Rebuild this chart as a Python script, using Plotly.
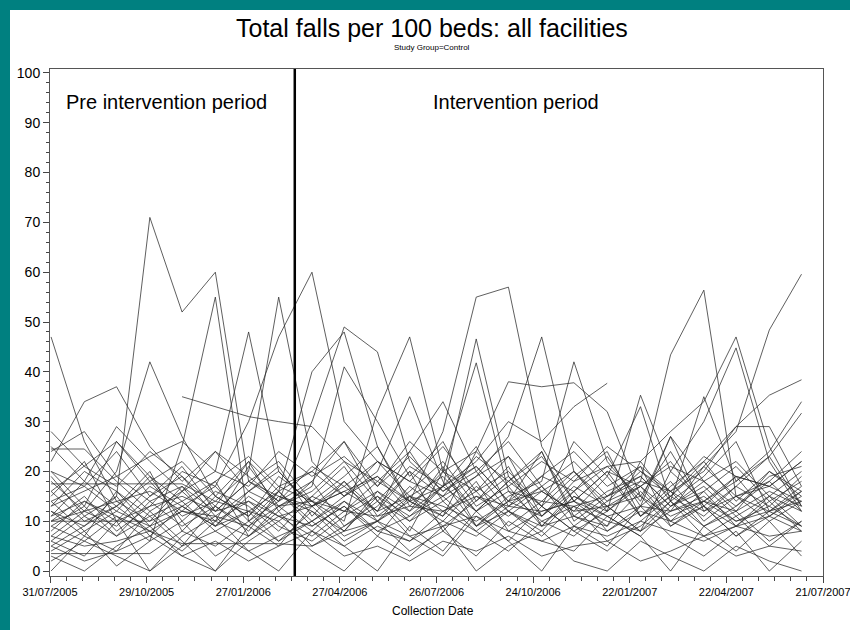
import plotly.graph_objects as go

# ---------------- data ----------------
dates = ["2005-08-01", "2005-09-01", "2005-10-01", "2005-11-01", "2005-12-01", "2006-01-01",
         "2006-02-01", "2006-03-01", "2006-04-01", "2006-05-01", "2006-06-01", "2006-07-01",
         "2006-08-01", "2006-09-01", "2006-10-01", "2006-11-01", "2006-12-01", "2007-01-01",
         "2007-02-01", "2007-03-01", "2007-04-01", "2007-05-01", "2007-06-01", "2007-07-01"]

N = None
f01 = [47, 26, 14, 10, 17, 9, 12, 6, 10, 14, 8, 11, 15, 9, 12, 7, 13, 10, 8, 14, 9, 12, 6, 10]
f02 = [12, 9, 15, 71, 52, 60, 18, 22, 14, 19, 25, 13, 20, 16, 23, 11, 18, 21, 15, 24, 13, 19, 17, 22]
f03 = [8, 14, 11, 6, 25, 55, 10, 16, 9, 13, 7, 15, 11, 18, 8, 12, 14, 9, 16, 10, 13, 7, 11, 15]
f04 = [18, 12, 20, 42, 27, 15, 22, 12, 18, 26, 14, 21, 17, 25, 13, 19, 16, 21, 22, 14, 19, 26, 12, 17]
f05 = [22, 34, 37, 25, 18, 24, 16, 20, 13, 17, 22, 15, 19, 12, 18, 23, 14, 20, 17, 12, 21, 15, 18, 24]
f06 = [16, 10, 13, 18, 11, 14, 20, 55, 22, 15, 19, 12, 17, 21, 14, 24, 11, 16, 19, 13, 18, 22, 15, 12]
f07 = [10, 15, 8, 13, 20, 17, 30, 47, 60, 30, 22, 18, 25, 16, 20, 13, 19, 24, 11, 17, 22, 14, 20, 16]
f08 = [14, 8, 12, 9, 16, 20, 48, 20, 13, 18, 10, 15, 9, 14, 19, 11, 16, 8, 13, 18, 10, 15, 12, 9]
f09 = [N, N, N, N, 35, 33, 31, 30, 29, 22, 18, 24, 34, 20, 26, 17, 22, 15, 19, 13, 17, 11, 15, 9]
f10 = [20, 17, 24, 15, 21, 12, 18, 14, 30, 49, 44, 22, 16, 20, 12, 17, 9, 14, 20, 15, 11, 17, 13, 19]
f11 = [6, 11, 7, 14, 9, 13, 8, 16, 40, 48, 25, 14, 10, 17, 12, 8, 15, 11, 7, 13, 16, 9, 14, 8]
f12 = [24.5, 24.5, 18, 12, 16, 10, 21, 13, 17, 41, 30, 19, 26, 14, 21, 9, 16, 23, 13, 27, 18, 12, 20, 15]
f13 = [11, 18, 13, 20, 8, 15, 11, 17, 14, 10, 32, 47, 20, 12, 18, 24, 10, 15, 21, 9, 14, 19, 11, 16]
f14 = [17.5, 17.5, 17.5, 17.5, 17.5, 14, 12, 16, 10, 15, 20, 35, 18, 9, 14, 11, 17, 13, 8, 12, 15, 10, 13, 9]
f15 = [9, 13, 7, 11, 14, 8, 12, 10, 15, 12, 18, 14, 28, 55, 57, 25, 14, 20, 11, 16, 9, 13, 18, 12]
f16 = [13, 20, 16, 9, 12, 18, 7, 13, 16, 22, 14, 10, 17, 46.6, 19, 13, 8, 12, 17, 22, 13, 9, 15, 20]
f17 = [5, 9, 13, 8, 4, 10, 14, 9, 6, 11, 15, 8, 20, 41.8, 16, 10, 13, 6, 9, 14, 7, 11, 5, 10]
f18 = [15, 22, 10, 17, 13, 9, 16, 21, 11, 18, 12, 24, 14, 19, 27, 47, 20, 13, 17, 10, 16, 21, 14, 18]
f19 = [20, 13, 26, 18, 22, 15, 11, 19, 14, 8, 16, 12, 21, 9, 15, 18, 42, 22, 14, 27, 12, 17, 23, 13]
f20 = [3.5, 3.5, 3.5, 3.5, 8, 5, 10, 6, 12, 8, 15, 11, 17, 22, 30, 26, 33, 37.7, N, N, N, N, N, N]
f21 = [12, 7, 16, 11, 5, 13, 9, 15, 12, 6, 10, 14, 11, 24, 38, 37, 37.8, 32, 15, 9, 13, 7, 12, 16]
f22 = [7, 12, 9, 15, 19, 11, 16, 13, 8, 14, 10, 17, 12, 16, 9, 14, 20, 12, 18, 43.4, 56.4, 15, 10, 14]
f23 = [10, 10, 10, 10, 13, 9, 15, 11, 7, 12, 16, 10, 14, 8, 13, 17, 11, 9, 22, 28, 34, 47, 25, 13]
f24 = [2, 6, 3, 0, 5, 8, 4, 7, 10, 5, 9, 6, 12, 8, 4, 10, 7, 13, 8, 20, 30, 44.8, 22, 12]
f25 = [25, 18, 29, 22, 16, 24, 19, 14, 21, 17, 12, 20, 15, 23, 18, 13, 26, 19, 11, 15, 21, 28, 48.4, 59.6]
f26 = [4, 8, 1, 6, 10, 3, 7, 12, 5, 9, 14, 7, 3, 11, 6, 13, 8, 4, 10, 15, 22, 29, 35.3, 38.4]
f27 = [14, 17, 12, 19, 10, 16, 13, 8, 15, 21, 11, 16, 22, 13, 17, 9, 15, 12, 35.3, 20, 14, 18, 24, 34]
f28 = [19, 11, 15, 7, 13, 17, 10, 14, 18, 9, 13, 20, 8, 15, 11, 16, 12, 19, 33, 14, 35, 18, 23, 31.7]
f29 = [28, 21, 17, 24, 19, 13, 22, 16, 20, 26, 17, 23, 16, 21, 14, 19, 24, 17, 21, 16, 20, 29, 29, 17]
f30 = [3, 0, 5, 9, 3, 0, 6, 10, 4, 0, 7, 3, 9, 0, 5, 8, 2, 0, 6, 3, 0, 5, 2, 0]
f31 = [6, 3, 10, 0, 7, 11, 4, 0, 8, 5, 0, 9, 4, 12, 6, 0, 9, 5, 13, 7, 3, 8, 0, 6]
f32 = [0, 7, 4, 12, 6, 0, 9, 5, 13, 7, 10, 4, 8, 3, 10, 6, 4, 11, 7, 0, 9, 4, 10, 3]
f33 = [10, 12, 14, 16, 12, 11, 9, 13, 14, 12, 11, 13, 12, 15, 13, 12, 14, 11, 13, 12, 14, 10, 12, 14]
f34 = [7, 5, 6, 8, 5.5, 5.5, 5.5, 5.5, 5, 8, 10, 7, 9, 11, 8, 6, 9, 7, 10, 8, 6, 9, 7, 8]
f35 = [13, 16, 19, 14, 17, 12, 18, 15, 13, 16, 19, 14, 17, 12, 16, 14, 13, 15, 18, 16, 12, 15, 17, 14]
f36 = [24, 28, 19, 23, 26, 20, 17, 24, 19, 23, 17, 26, 20, 24, 17, 22, 18, 25, 20, 16, 23, 19, 17, 22]
f37 = [9, 6, 11, 8, 12, 10, 7, 11, 9, 13, 8, 6, 10, 7, 12, 9, 11, 8, 12, 10, 7, 9, 11, 8]
f38 = [16, 21, 26, 19, 14, 18, 23, 17, 20, 15, 22, 18, 15, 19, 23, 16, 20, 14, 17, 21, 18, 13, 19, 21]
f39 = [11, 14, 10, 13, 15, 12, 14, 11, 13, 16, 12, 15, 13, 10, 14, 16, 12, 13, 15, 11, 14, 12, 16, 13]
f40 = [5, 2, 4, 7, 3, 6, 2, 5, 8, 3, 5, 2, 6, 4, 7, 3, 5, 6, 2, 4, 7, 3, 5, 4]

facilities = [f01, f02, f03, f04, f05, f06, f07, f08, f09, f10, f11, f12, f13, f14, f15, f16, f17,
              f18, f19, f20, f21, f22, f23, f24, f25, f26, f27, f28, f29, f30, f31, f32, f33, f34,
              f35, f36, f37, f38, f39, f40]

x_tick_dates = ["2005-07-31", "2005-10-29", "2006-01-27", "2006-04-27", "2006-07-26",
                "2006-10-24", "2007-01-22", "2007-04-22", "2007-07-21"]
x_tick_labels = ["31/07/2005", "29/10/2005", "27/01/2006", "27/04/2006", "26/07/2006",
                 "24/10/2006", "22/01/2007", "22/04/2007", "21/07/2007"]
y_ticks = [0, 10, 20, 30, 40, 50, 60, 70, 80, 90, 100]
intervention_start = "2006-03-16"

title_text = "Total falls per 100 beds: all facilities"
subtitle_text = "Study Group=Control"
pre_label = "Pre intervention period"
post_label = "Intervention period"
x_title = "Collection Date"

# ---------------- figure ----------------
W, H = 850, 630
L, R, T, B = 50, 27, 69, 54
pw, ph = W - L - R, H - T - B


def px_x(p):
    return (p - L) / pw


def px_y(p):
    return (H - B - p) / ph


fig = go.Figure()
for i, vals in enumerate(facilities):
    fig.add_trace(go.Scatter(x=dates, y=vals, mode="lines",
                             line=dict(color="#2a2a2a", width=0.75),
                             connectgaps=False, hoverinfo="skip", showlegend=False))

font_main = "Liberation Sans, Arial, sans-serif"

fig.update_layout(
    width=W, height=H,
    margin=dict(l=L, r=R, t=T, b=B, pad=0, autoexpand=False),
    paper_bgcolor="white", plot_bgcolor="white",
    showlegend=False,
    font=dict(family=font_main, color="black"),
)

fig.update_xaxes(
    type="date", range=["2005-07-31", "2007-07-21"], automargin=False,
    tickmode="array", tickvals=x_tick_dates, ticktext=x_tick_labels,
    tickfont=dict(size=11, color="black"), ticklabeloverflow="allow",
    ticks="outside", ticklen=6, tickcolor="#444", tickwidth=1,
    minor=dict(dtick=15 * 86400000, tick0="2005-07-31", ticks="outside", ticklen=4,
               tickcolor="#444", tickwidth=1, showgrid=False),
    showline=True, linecolor="#555", linewidth=1, mirror=True,
    showgrid=False, zeroline=False,
)
fig.update_yaxes(
    range=[-1.0, 100.8], automargin=False,
    tickmode="array", tickvals=y_ticks,
    tickfont=dict(size=14, color="black"),
    ticks="outside", ticklen=6, tickcolor="#444", tickwidth=1,
    minor=dict(dtick=2, tick0=0, ticks="outside", ticklen=3, tickcolor="#444",
               tickwidth=1, showgrid=False),
    showline=True, linecolor="#555", linewidth=1, mirror=True,
    showgrid=False, zeroline=False,
)

# intervention start line
fig.add_shape(type="line", xref="x", yref="paper", x0=intervention_start, x1=intervention_start,
              y0=0, y1=1, line=dict(color="black", width=2.5))

# teal frame (top and left strips)
teal = "#008080"
fig.add_shape(type="rect", xref="paper", yref="paper", x0=px_x(0), x1=px_x(W),
              y0=px_y(10), y1=px_y(0), fillcolor=teal, line=dict(width=0), layer="above")
fig.add_shape(type="rect", xref="paper", yref="paper", x0=px_x(0), x1=px_x(10),
              y0=px_y(H), y1=px_y(0), fillcolor=teal, line=dict(width=0), layer="above")

ann = [
    dict(text=title_text, x=px_x(432), y=px_y(28), font=dict(size=25), xanchor="center"),
    dict(text=subtitle_text, x=px_x(432), y=px_y(47), font=dict(size=8), xanchor="center"),
    dict(text=pre_label, x=px_x(64), y=px_y(102), font=dict(size=20), xanchor="left"),
    dict(text=post_label, x=px_x(431), y=px_y(102), font=dict(size=20), xanchor="left"),
    dict(text=x_title, x=px_x(433), y=px_y(611), font=dict(size=12), xanchor="center"),
]
for a in ann:
    fig.add_annotation(xref="paper", yref="paper", showarrow=False, yanchor="middle",
                       font_color="black", font_family=font_main, **a)

fig.write_html(
    "out.html",
    config={"displayModeBar": False},
    post_script="document.body.style.margin='0';document.body.style.overflow='hidden';",
)
